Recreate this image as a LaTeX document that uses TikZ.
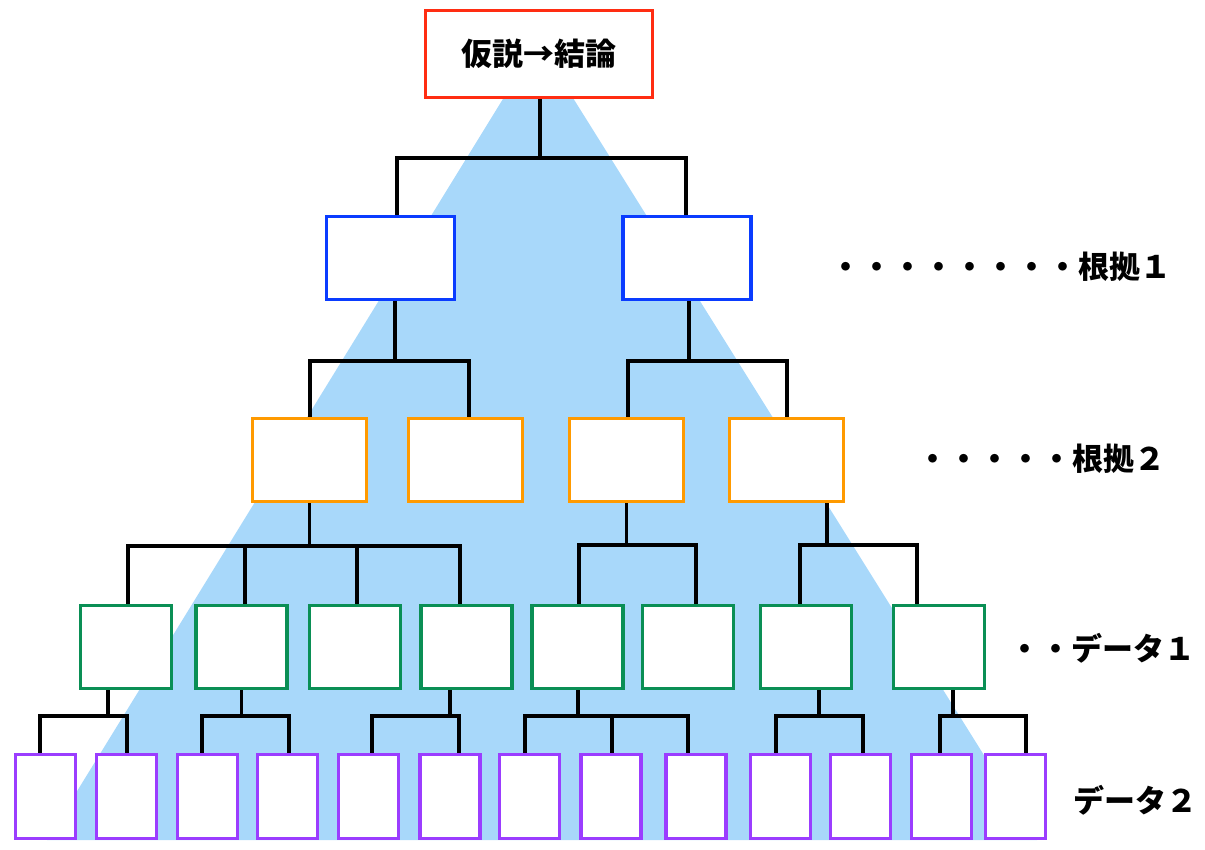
\documentclass[tikz,border=0pt]{standalone}
\usepackage{fontspec}
\setmainfont{Noto Sans CJK JP}
\definecolor{tri}{HTML}{A8D8FA}
\definecolor{cred}{HTML}{FF2D12}
\definecolor{cblue}{HTML}{0A3CFF}
\definecolor{corange}{HTML}{FF9A00}
\definecolor{cgreen}{HTML}{0A8F55}
\definecolor{cpurple}{HTML}{9B3DFF}
\begin{document}
\begin{tikzpicture}[x=1pt,y=-1pt,
  bx/.style={draw=#1, fill=white, line width=3.5pt, inner sep=0pt},
  rbox/.style={bx=cred, minimum width=227, minimum height=87},
  bbox/.style={bx=cblue, minimum width=128, minimum height=83},
  obox/.style={bx=corange, minimum width=114, minimum height=83},
  gbox/.style={bx=cgreen, minimum width=91, minimum height=83},
  pbox/.style={bx=cpurple, minimum width=60, minimum height=84},
  conn/.style={line width=3.2pt, black},
  lbl/.style={anchor=west, inner sep=0pt, font=\fontsize{31}{31}\selectfont\bfseries}]
\useasboundingbox (0,0) rectangle (1205,850);
\fill[tri] (538,42) -- (1037,840) -- (47,840) -- cycle;
% nodes
\node[rbox] (r) at (539,54) {\fontsize{31}{31}\selectfont\bfseries 仮説→結論};
\node[bbox] (b1) at (390.5,258) {};
\node[bbox] (b2) at (687,258) {};
\node[obox] (o1) at (309.5,460) {};
\node[obox] (o2) at (465.5,460) {};
\node[obox] (o3) at (626.5,460) {};
\node[obox] (o4) at (786.5,460) {};
\node[gbox] (g1) at (126,647) {};
\node[gbox] (g2) at (241.5,647) {};
\node[gbox] (g3) at (355,647) {};
\node[gbox] (g4) at (466.5,647) {};
\node[gbox] (g5) at (577.5,647) {};
\node[gbox] (g6) at (688,647) {};
\node[gbox] (g7) at (806,647) {};
\node[gbox] (g8) at (939,647) {};
\node[pbox] (p1) at (45.5,796.5) {};
\node[pbox] (p2) at (126.5,796.5) {};
\node[pbox] (p3) at (207.5,796.5) {};
\node[pbox] (p4) at (287.5,796.5) {};
\node[pbox] (p5) at (368.5,796.5) {};
\node[pbox] (p6) at (450,796.5) {};
\node[pbox] (p7) at (529.5,796.5) {};
\node[pbox] (p8) at (611,796.5) {};
\node[pbox] (p9) at (696,796.5) {};
\node[pbox] (p10) at (780.5,796.5) {};
\node[pbox] (p11) at (860.5,796.5) {};
\node[pbox] (p12) at (941.5,796.5) {};
\node[pbox] (p13) at (1015.5,796.5) {};
% drop points (in = top of child, out = bottom of parent)
\coordinate (rout) at ([xshift=1]r.south);
\coordinate (b1in) at ([xshift=6.5]b1.north);
\coordinate (b2in) at ([xshift=-1]b2.north);
\coordinate (b1out) at ([xshift=4.5]b1.south);
\coordinate (b2out) at ([xshift=2]b2.south);
\coordinate (o1in) at ([xshift=0.5]o1.north);
\coordinate (o2in) at ([xshift=3.5]o2.north);
\coordinate (o3in) at ([xshift=1.5]o3.north);
\coordinate (o4in) at ([xshift=0.5]o4.north);
\coordinate (o1out) at ([xshift=0]o1.south);
\coordinate (o3out) at ([xshift=0]o3.south);
\coordinate (o4out) at ([xshift=40.5]o4.south);
\coordinate (g1in) at ([xshift=2]g1.north);
\coordinate (g2in) at ([xshift=3.5]g2.north);
\coordinate (g3in) at ([xshift=2]g3.north);
\coordinate (g4in) at ([xshift=-6.5]g4.north);
\coordinate (g5in) at ([xshift=1.5]g5.north);
\coordinate (g6in) at ([xshift=8]g6.north);
\coordinate (g7in) at ([xshift=-6]g7.north);
\coordinate (g8in) at ([xshift=-22]g8.north);
\coordinate (g1out) at ([xshift=-18]g1.south);
\coordinate (g2out) at ([xshift=0]g2.south);
\coordinate (g4out) at ([xshift=-16.5]g4.south);
\coordinate (g5out) at ([xshift=0.5]g5.south);
\coordinate (g7out) at ([xshift=13]g7.south);
\coordinate (g8out) at ([xshift=14]g8.south);
\coordinate (p1in) at ([xshift=-5.5]p1.north);
\coordinate (p2in) at ([xshift=0.5]p2.north);
\coordinate (p3in) at ([xshift=-5.5]p3.north);
\coordinate (p4in) at ([xshift=1.5]p4.north);
\coordinate (p5in) at ([xshift=3.5]p5.north);
\coordinate (p6in) at ([xshift=9]p6.north);
\coordinate (p7in) at ([xshift=-4.5]p7.north);
\coordinate (p8in) at ([xshift=1]p8.north);
\coordinate (p9in) at ([xshift=-8]p9.north);
\coordinate (p10in) at ([xshift=-4.5]p10.north);
\coordinate (p11in) at ([xshift=2.5]p11.north);
\coordinate (p12in) at ([xshift=-1.5]p12.north);
\coordinate (p13in) at ([xshift=10.5]p13.north);
% connectors
\draw[conn] (rout) -- (rout |- 0,158) coordinate (t0);
\draw[conn] (b1in) |- (t0) -| (b2in);
\draw[conn] (b1out) -- (b1out |- 0,361) coordinate (t1);
\draw[conn] (o1in) |- (t1) -| (o2in);
\draw[conn] (b2out) -- (b2out |- 0,361) coordinate (t2);
\draw[conn] (o3in) |- (t2) -| (o4in);
\draw[conn] (o1out) -- (o1out |- 0,546) coordinate (t3);
\draw[conn] (g1in) |- (t3) -| (g4in);
\draw[conn] (g2in) -- (g2in |- t3);
\draw[conn] (g3in) -- (g3in |- t3);
\draw[conn] (o3out) -- (o3out |- 0,545) coordinate (t4);
\draw[conn] (g5in) |- (t4) -| (g6in);
\draw[conn] (o4out) -- (o4out |- 0,545) coordinate (t5);
\draw[conn] (g7in) |- (t5) -| (g8in);
\draw[conn] (g1out) -- (g1out |- 0,716) coordinate (t6);
\draw[conn] (p1in) |- (t6) -| (p2in);
\draw[conn] (g2out) -- (g2out |- 0,716) coordinate (t7);
\draw[conn] (p3in) |- (t7) -| (p4in);
\draw[conn] (g4out) -- (g4out |- 0,716) coordinate (t8);
\draw[conn] (p5in) |- (t8) -| (p6in);
\draw[conn] (g5out) -- (g5out |- 0,716) coordinate (t9);
\draw[conn] (p7in) |- (t9) -| (p9in);
\draw[conn] (p8in) -- (p8in |- t9);
\draw[conn] (g7out) -- (g7out |- 0,716) coordinate (t10);
\draw[conn] (p10in) |- (t10) -| (p11in);
\draw[conn] (g8out) -- (g8out |- 0,716) coordinate (t11);
\draw[conn] (p12in) |- (t11) -| (p13in);
% labels
\node[lbl] (l1) at (830,267) {・・・・・・・・根拠１};
\node[lbl] (l2) at (917.5,459) {・・・・・根拠２};
\node[lbl] (l3) at (1009.5,648) {・・データ１};
\node[lbl] (l4) at (1073,800) {データ２};
\end{tikzpicture}
\end{document}
